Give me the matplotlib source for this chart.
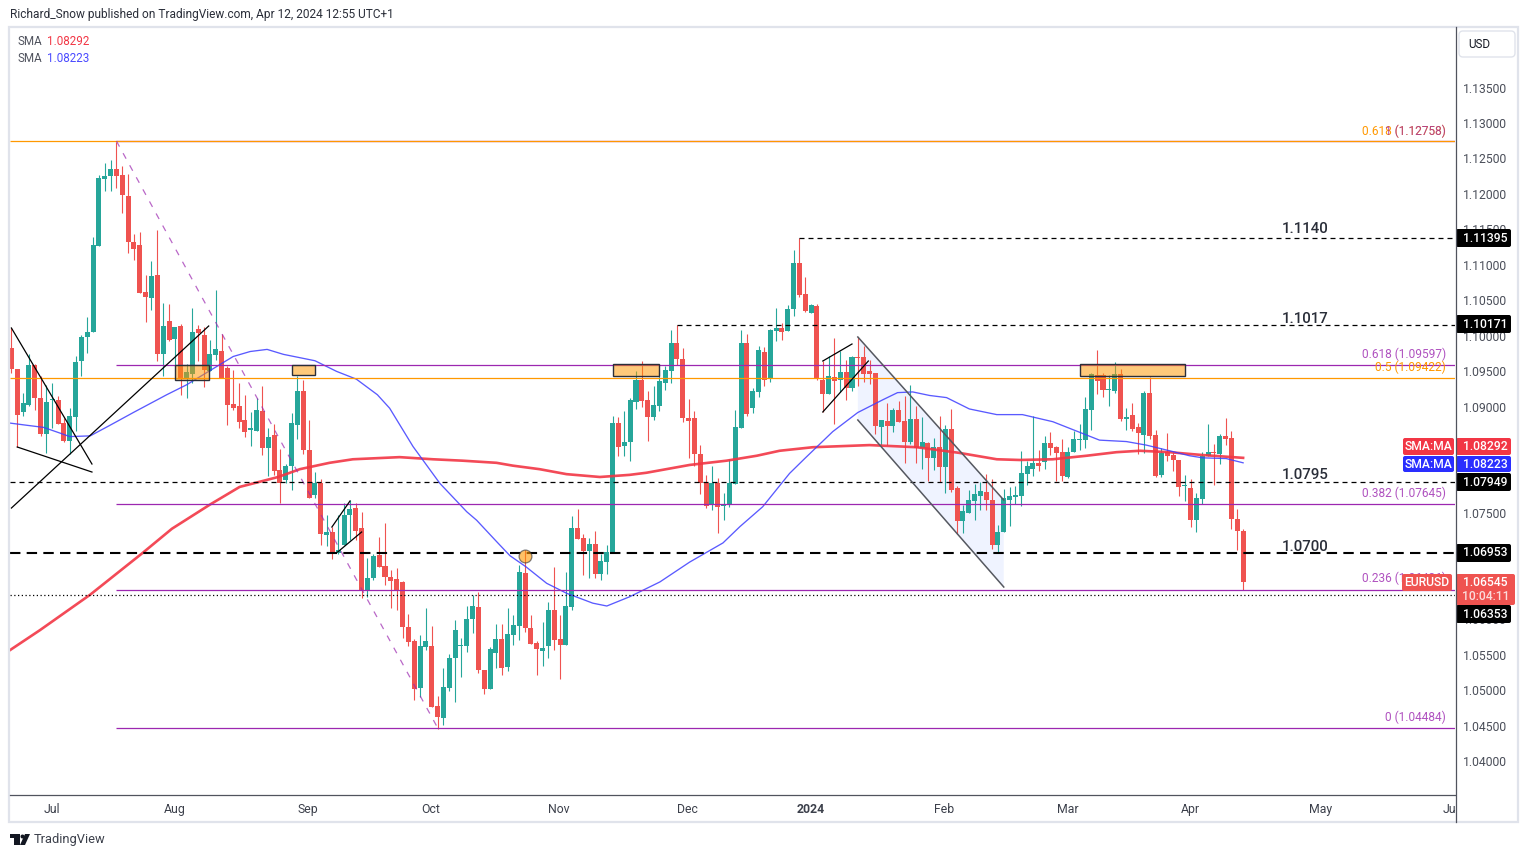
import numpy as np
import matplotlib
matplotlib.use("Agg")
import matplotlib.pyplot as plt
from matplotlib.patches import Rectangle, Polygon, FancyBboxPatch
from matplotlib.transforms import Affine2D

plt.rcParams['font.family'] = ['Roboto', 'DejaVu Sans']

# EURUSD daily candles, prices in 1/10000
opens = [10984,10954,10894,10904,10960,10913,10862,10911,10911,10878,
         10853,10886,10965,10999,11006,11128,11223,11226,11236,11228,
         11198,11134,11129,11063,11055,11087,10976,11022,10996,11015,
         10940,10947,11011,11002,10952,10974,10980,10956,10905,10902,
         10882,10868,10867,10895,10843,10861,10812,10798,10818,10876,
         10923,10840,10776,10794,10720,10724,10695,10706,10748,10758,
         10730,10642,10659,10692,10676,10661,10658,10654,10590,10571,
         10504,10562,10564,10479,10462,10504,10547,10563,10564,10602,
         10619,10530,10503,10554,10573,10534,10579,10592,10667,10589,
         10568,10557,10564,10614,10573,10565,10619,10730,10716,10698,
         10707,10665,10682,10696,10878,10846,10851,10908,10939,10911,
         10887,10902,10935,10952,10991,10968,10885,10885,10834,10794,
         10762,10793,10761,10764,10792,10871,10991,10899,10922,10978,
         10940,11008,11012,11008,11039,11104,11060,11033,11043,10939,
         10919,10943,10939,10950,10928,10971,10971,10951,10949,10872,
         10881,10874,10896,10881,10851,10884,10843,10850,10829,10844,
         10816,10870,10786,10740,10751,10768,10775,10781,10769,10706,
         10724,10769,10774,10775,10806,10813,10822,10823,10850,10844,
         10837,10802,10837,10854,10854,10896,10946,10946,10925,10923,
         10947,10884,10889,10872,10861,10920,10861,10805,10837,10833,
         10826,10789,10786,10741,10771,10832,10837,10834,10860,10857,
         10743,10726]
highs = [11012,10954,10920,10976,10961,10944,10932,10934,10916,10885,
         10900,10973,11002,11028,11140,11228,11245,11249,11275,11241,
         11229,11145,11148,11087,11107,11150,11047,11046,11014,11018,
         10962,11041,11016,11014,10995,11066,11004,10959,10953,10934,
         10918,10894,10913,10930,10871,10877,10841,10821,10892,10945,
         10939,10882,10809,10799,10748,10732,10748,10765,10769,10765,
         10753,10688,10694,10717,10737,10671,10673,10655,10609,10574,
         10579,10617,10592,10493,10533,10552,10600,10575,10620,10636,
         10640,10530,10562,10595,10595,10617,10607,10678,10699,10607,
         10571,10597,10626,10675,10607,10668,10747,10757,10722,10716,
         10726,10693,10706,10888,10887,10895,10913,10952,10966,10923,
         10930,10953,10959,11009,11016,10984,10912,10895,10847,10805,
         10817,10801,10779,10828,10896,11009,11004,10927,10987,10985,
         11011,11040,11019,11045,11122,11139,11084,11046,11046,10966,
         10972,10998,10980,10967,10973,10999,10987,10967,10949,10882,
         10906,10899,10909,10916,10932,10902,10887,10851,10857,10888,
         10875,10898,10789,10762,10784,10792,10795,10806,10799,10734,
         10785,10788,10789,10839,10825,10888,10840,10860,10865,10846,
         10856,10844,10867,10877,10915,10949,10981,10949,10946,10964,
         10954,10899,10906,10878,10923,10943,10868,10843,10864,10837,
         10826,10805,10799,10779,10837,10877,10849,10863,10885,10867,
         10757,10729]
lows = [10949,10845,10888,10902,10896,10860,10836,10871,10877,10852,
        10835,10867,10944,10977,11006,11128,11205,11205,11210,11175,
        11118,11108,11061,11021,11038,10966,10945,10994,10958,10918,
        10913,10935,10966,10929,10951,10967,10942,10875,10897,10871,
        10858,10846,10867,10833,10804,10805,10766,10793,10783,10856,
        10835,10772,10773,10706,10704,10686,10694,10706,10713,10713,
        10632,10633,10656,10675,10650,10617,10614,10575,10563,10487,
        10492,10558,10478,10447,10452,10500,10484,10520,10555,10582,
        10525,10496,10503,10532,10523,10528,10565,10572,10583,10566,
        10523,10535,10547,10558,10517,10565,10614,10714,10664,10659,
        10659,10657,10665,10696,10832,10831,10825,10898,10901,10853,
        10883,10895,10925,10935,10960,10880,10829,10817,10778,10758,
        10755,10723,10741,10759,10792,10871,10888,10892,10915,10930,
        10936,10994,10995,11008,11029,11056,11035,11033,10939,10894,
        10919,10877,10922,10911,10923,10930,10936,10933,10863,10847,
        10847,10866,10880,10822,10849,10822,10813,10796,10812,10795,
        10779,10781,10722,10723,10751,10741,10755,10755,10700,10695,
        10724,10733,10764,10761,10791,10803,10810,10813,10833,10796,
        10796,10801,10837,10840,10843,10868,10919,10915,10902,10920,
        10881,10868,10867,10834,10836,10856,10802,10802,10825,10810,
        10775,10768,10731,10724,10764,10832,10791,10820,10847,10729,
        10699,10643]
closes = [10954,10889,10906,10960,10914,10863,10908,10912,10877,10853,
          10888,10964,11000,11007,11129,11224,11227,11236,11227,11200,
          11133,11124,11062,11056,11086,10976,11015,10995,11014,10940,
          10950,11007,11005,10953,10976,10983,10942,10904,10899,10880,
          10866,10871,10896,10843,10858,10811,10793,10818,10878,10923,
          10840,10773,10794,10722,10724,10695,10699,10748,10757,10726,
          10642,10659,10691,10675,10661,10655,10642,10590,10569,10503,
          10564,10571,10478,10463,10506,10547,10586,10565,10602,10620,
          10530,10503,10559,10573,10532,10580,10593,10668,10589,10566,
          10559,10561,10614,10572,10565,10620,10730,10714,10698,10707,
          10665,10683,10696,10878,10844,10851,10911,10939,10909,10887,
          10904,10937,10953,10991,10968,10885,10881,10834,10794,10761,
          10793,10760,10764,10793,10872,10991,10891,10923,10981,10939,
          11009,11012,11007,11039,11104,11059,11036,11045,10940,10919,
          10944,10937,10950,10928,10971,10970,10947,10947,10874,10882,
          10874,10896,10880,10851,10884,10843,10851,10829,10844,10816,
          10870,10784,10740,10754,10769,10778,10782,10769,10706,10724,
          10772,10775,10777,10808,10817,10822,10817,10850,10843,10836,
          10803,10837,10856,10856,10898,10947,10937,10925,10926,10947,
          10884,10887,10870,10864,10920,10860,10803,10836,10832,10826,
          10788,10791,10741,10772,10832,10837,10836,10860,10856,10743,
          10726,10654]

# moving averages (bar number, price)
sma50_x = [-0.2,2.6,5.5,8.3,10,13.5,16.9,20.9,26.6,30,34.6,38,40.9,43.8,46.6,52,55.7,59.1,
           62.7,64.8,68.8,73.4,78,79.7,83.1,85.4,88.2,91.7,95.1,99.6,102,105.9,111.1,116.2,
           120,121.9,124.8,128.7,133.3,135.9,140.7,145,149.3,151.8,154.4,157.3,160.2,164.1,
           168.8,173.2,178.4,182.4,186.4,191,194.4,198.4,201.8,204.1,208.1,211]
sma50_y = [10878,10875,10872,10864,10859,10860,10875,10893,10918,10932,10955,10972,10979,10982,
           10975,10966,10951,10940,10918,10899,10845,10793,10753,10741,10711,10691,10675,10652,
           10638,10624,10620,10633,10654,10682,10700,10709,10732,10760,10807,10828,10866,10893,
           10911,10921,10922,10917,10914,10898,10890,10890,10880,10867,10854,10852,10847,10839,
           10832,10829,10828,10822]
sma200_x = [-0.2,4.9,13.5,22.5,27.5,34,39.1,45.7,49.4,54.5,58.5,66.5,72.2,77.3,83.1,85.9,90.5,
            95.1,100.8,105.9,108.8,116.2,122.5,127.7,131.6,137.3,147,155.1,162.4,168.8,172.7,
            178.4,184.2,189.3,193.3,198.4,204,211]
sma200_y = [10558,10586,10636,10695,10729,10763,10788,10802,10813,10822,10827,10830,10827,10825,
            10822,10818,10813,10806,10802,10805,10808,10819,10825,10832,10839,10844,10847,10844,
            10836,10827,10826,10827,10832,10837,10839,10837,10833,10829]

month_pos = [7, 28, 50.8, 71.8, 93.8, 115.8, 137, 159.8, 181, 202, 224.2, 247]
month_labels = ['Jul', 'Aug', 'Sep', 'Oct', 'Nov', 'Dec', '2024', 'Feb', 'Mar', 'Apr', 'May', 'Jun']
price_ticks = [1.04, 1.045, 1.05, 1.055, 1.06, 1.065, 1.07, 1.075, 1.08, 1.085, 1.09, 1.095,
               1.10, 1.105, 1.11, 1.115, 1.12, 1.125, 1.13, 1.135]

# colours
UP = '#26a69a'
DOWN = '#ef5350'
PURPLE = '#9c27b0'
ORANGE = '#ff9800'
TEXT = '#131722'
GREY = '#50535e'

W, H = 1529, 857
fig = plt.figure(figsize=(W / 100, H / 100), dpi=100, facecolor='white')
# pixel coordinates with y going down, for the TradingView furniture
px = Affine2D().scale(1, -1).translate(0, H)

end = 247.3
ax = fig.add_axes([10 / W, 1 - 794 / H, 1445 / W, 767 / H])
ax.set_xlim(-0.24, end)
ax.set_ylim(1.03548, 1.14368)
for s in ax.spines.values():
    s.set_visible(False)
ax.yaxis.set_visible(False)
ax.set_xticks(month_pos)
ax.set_xticklabels(month_labels, fontsize=8.8, color='#3c404b')
ax.get_xticklabels()[6].set_fontweight('bold')
ax.tick_params(axis='x', length=0, pad=6.3)

# candles
o = np.array(opens) / 1e4
h = np.array(highs) / 1e4
l = np.array(lows) / 1e4
c = np.array(closes) / 1e4
x = np.arange(len(o))
col = np.where(c >= o, UP, DOWN)
ax.vlines(x, l, h, colors=col, linewidth=0.8, zorder=2)
ax.bar(x, np.maximum(np.abs(c - o), 0.00016), bottom=np.minimum(o, c), width=0.86, color=col,
       linewidth=0, zorder=2)

# moving averages
ax.plot(sma200_x, np.array(sma200_y) / 1e4, color='#f23645', linewidth=1.9, alpha=0.9, zorder=3)
ax.plot(sma50_x, np.array(sma50_y) / 1e4, color='#3d3dff', linewidth=0.95, alpha=0.85, zorder=3)

# fib levels and horizontal lines
ax.hlines(1.12764, 18, end, color=PURPLE, linewidth=0.9, zorder=4)
ax.hlines(1.12754, -0.24, end, color=ORANGE, linewidth=0.9, zorder=4)
ax.hlines(1.09422, -0.24, end, color=ORANGE, linewidth=0.9, zorder=4)
for level in [1.09597, 1.07645, 1.06426, 1.04484]:
    ax.hlines(level, 18, end, color=PURPLE, linewidth=0.9, zorder=4)
ax.plot([18, 73], [1.12758, 1.04484], color=PURPLE, alpha=0.7, linewidth=0.9,
        dashes=(5, 6), zorder=4)
ax.plot([135, end], [1.11395, 1.11395], color='black', linewidth=0.9, dashes=(4, 3.2), zorder=4)
ax.plot([114, end], [1.10171, 1.10171], color='black', linewidth=0.9, dashes=(4, 3.2), zorder=4)
ax.plot([-0.24, end], [1.07949, 1.07949], color='black', linewidth=0.9, dashes=(4, 3.2), zorder=4)
ax.plot([-0.24, end], [1.06953, 1.06953], color='black', linewidth=1.5, dashes=(5, 3), zorder=4)
ax.plot([-0.24, end], [1.06353, 1.06353], color='black', linewidth=0.9, dashes=(1, 2), zorder=4)

# trend lines
trend_lines = [((0, 13.8), (1.10122, 1.08203)), ((1, 13.8), (1.08443, 1.08090)),
               ((0, 33.8), (1.07582, 1.10150)), ((54.9, 58), (1.07314, 1.07681)),
               ((55.9, 60), (1.06962, 1.07244)), ((139, 144), (1.09656, 1.09896)),
               ((139, 146.8), (1.08937, 1.09656))]
for tx, ty in trend_lines:
    ax.plot(tx, ty, color='black', linewidth=0.9, zorder=4)

# falling channel
ax.add_patch(Polygon([(145, 1.09995), (170, 1.07695), (170, 1.06468), (145, 1.08824)],
                     facecolor='#2962ff', alpha=0.07, linewidth=0, zorder=1))
ax.plot([145, 170], [1.09995, 1.07695], color='#555860', linewidth=1.1, zorder=4)
ax.plot([145, 170], [1.08824, 1.06468], color='#555860', linewidth=1.1, zorder=4)

# resistance boxes
for x0, x1, y0, y1 in [(28, 33.8, 1.0939, 1.0960), (48, 52, 1.0946, 1.0960),
                       (103, 111, 1.0945, 1.0961), (183, 201, 1.0945, 1.0961)]:
    ax.add_patch(Rectangle((x0, y0), x1 - x0, y1 - y0, facecolor=ORANGE, alpha=0.52,
                           edgecolor='none', zorder=4))
    ax.add_patch(Rectangle((x0, y0), x1 - x0, y1 - y0, fill=False, edgecolor='#2a2e39',
                           linewidth=1.0, zorder=4))
ax.scatter([88], [1.06905], s=85, color=ORANGE, alpha=0.6, edgecolor='#2a2e39', linewidth=0.9, zorder=5)

# labels on the chart
def chart_text(px_x, px_y, s, **kw):
    fig.text(px_x, px_y, s, transform=px, va='center', zorder=6, **kw)

for lbl, yy in [('1.1140', 229), ('1.1017', 319), ('1.0795', 475), ('1.0700', 547)]:
    chart_text(1305, yy, lbl, fontsize=10.8, color='#2a2e39', ha='center', fontweight='medium')
fib = dict(fontsize=8.6, ha='right')
chart_text(1446, 131, '0.618 (1.12758)', color=ORANGE, **fib)
chart_text(1446, 131, '1 (1.12758)', color=PURPLE, alpha=0.75, **fib)
chart_text(1446, 354, '0.618 (1.09597)', color=PURPLE, alpha=0.8, **fib)
chart_text(1446, 367, '0.5 (1.09422)', color=ORANGE, **fib)
chart_text(1446, 493, '0.382 (1.07645)', color=PURPLE, alpha=0.8, **fib)
chart_text(1446, 578, '0.236 (1.06426)', color=PURPLE, alpha=0.8, **fib)
chart_text(1446, 717, '0 (1.04484)', color=PURPLE, alpha=0.8, **fib)

# price scale panel
panel = fig.add_axes([1456 / W, 1 - 822 / H, 62 / W, 795 / H], zorder=5)
panel.set_facecolor('white')
panel.set_xlim(0, 1)
panel.set_ylim(1.03139, 1.14354)
panel.set_xticks([])
for s in panel.spines.values():
    s.set_visible(False)
panel.yaxis.tick_right()
panel.set_yticks(price_ticks)
panel.set_yticklabels(['%.5f' % t for t in price_ticks], fontsize=8.7, color='#4a4e59')
panel.tick_params(axis='y', length=0, pad=-39.6)

def box(x0, y0, x1, y1, color, labels, zorder=7):
    fig.add_artist(FancyBboxPatch((x0 + 2, y0 + 2), x1 - x0 - 4, y1 - y0 - 4, transform=px,
                                  boxstyle='round,pad=2,rounding_size=2', facecolor=color,
                                  edgecolor='none', zorder=zorder))
    for s, tx, ty, tc in labels:
        fig.text(tx, ty, s, transform=px, color=tc, fontsize=8.7, ha='center', va='center',
                 fontweight='medium', zorder=zorder + 1)

for val, yy in [('1.11395', 238), ('1.10171', 324), ('1.07949', 482), ('1.06953', 553),
                ('1.06353', 614)]:
    box(1456, yy - 9, 1511, yy + 9, 'black', [(val, 1485, yy, 'white')])
box(1403, 438, 1454, 455, '#f23645', [('SMA:MA', 1429, 446.5, 'white')])
box(1456, 438, 1511, 455, '#f23645', [('1.08292', 1485, 446.5, 'white')])
box(1403, 456, 1454, 472, '#2a2eff', [('SMA:MA', 1429, 464, 'white')])
box(1456, 456, 1511, 472, '#2a2eff', [('1.08223', 1485, 464, 'white')])
box(1402, 574, 1452, 591, DOWN, [('EURUSD', 1427, 582.5, 'white')])
box(1456, 574, 1515, 605, DOWN, [('1.06545', 1485, 582, 'white'), ('10:04:11', 1486, 596, '#fbdcdb')])

# USD button
fig.add_artist(FancyBboxPatch((1463, 35), 48, 18, transform=px, boxstyle='round,pad=4,rounding_size=4',
                              facecolor='white', edgecolor='#e0e3eb', linewidth=1, zorder=7))
fig.text(1468, 44.5, 'USD', transform=px, color=TEXT, fontsize=8.4, va='center', zorder=8)

# frame and axis lines
fig.add_artist(Rectangle((9, 27), 1509, 795, transform=px, fill=False, edgecolor='#e0e3eb',
                         linewidth=1.6, zorder=9))
fig.add_artist(plt.Line2D([1455.5, 1455.5], [27, 822], transform=px, color=GREY, linewidth=0.9, zorder=9))
fig.add_artist(plt.Line2D([10, 1455], [794.5, 794.5], transform=px, color=GREY, linewidth=0.9, zorder=9))

# header and legend
fig.text(10, 14.5, 'Richard_Snow published on TradingView.com, Apr 12, 2024 12:55 UTC+1', transform=px,
         fontsize=8.6, color='#2a2e39', va='center')
fig.text(18, 41.5, 'SMA', transform=px, fontsize=8.4, color='#50535e', va='center', zorder=6)
fig.text(47, 41.5, '1.08292', transform=px, fontsize=8.4, color='#f23645', va='center', zorder=6)
fig.text(18, 58.5, 'SMA', transform=px, fontsize=8.4, color='#50535e', va='center', zorder=6)
fig.text(47, 58.5, '1.08223', transform=px, fontsize=8.4, color='#4a4aff', va='center', zorder=6)

# footer logo and name
fig.add_artist(Polygon([(10, 834), (20, 834), (20, 845), (14, 845), (14, 838), (10, 838)], transform=px,
                       facecolor='#131722', edgecolor='none'))
fig.add_artist(plt.Circle((22.5, 836.5), 2, transform=px, facecolor='#131722', edgecolor='none'))
fig.add_artist(Polygon([(25, 834), (30, 834), (25, 845), (20, 845)], transform=px,
                       facecolor='#131722', edgecolor='none'))
fig.text(33.5, 840, 'TradingView', transform=px, fontsize=9.3, color='#3c404b', va='center')

fig.savefig('out.png', dpi=100)
